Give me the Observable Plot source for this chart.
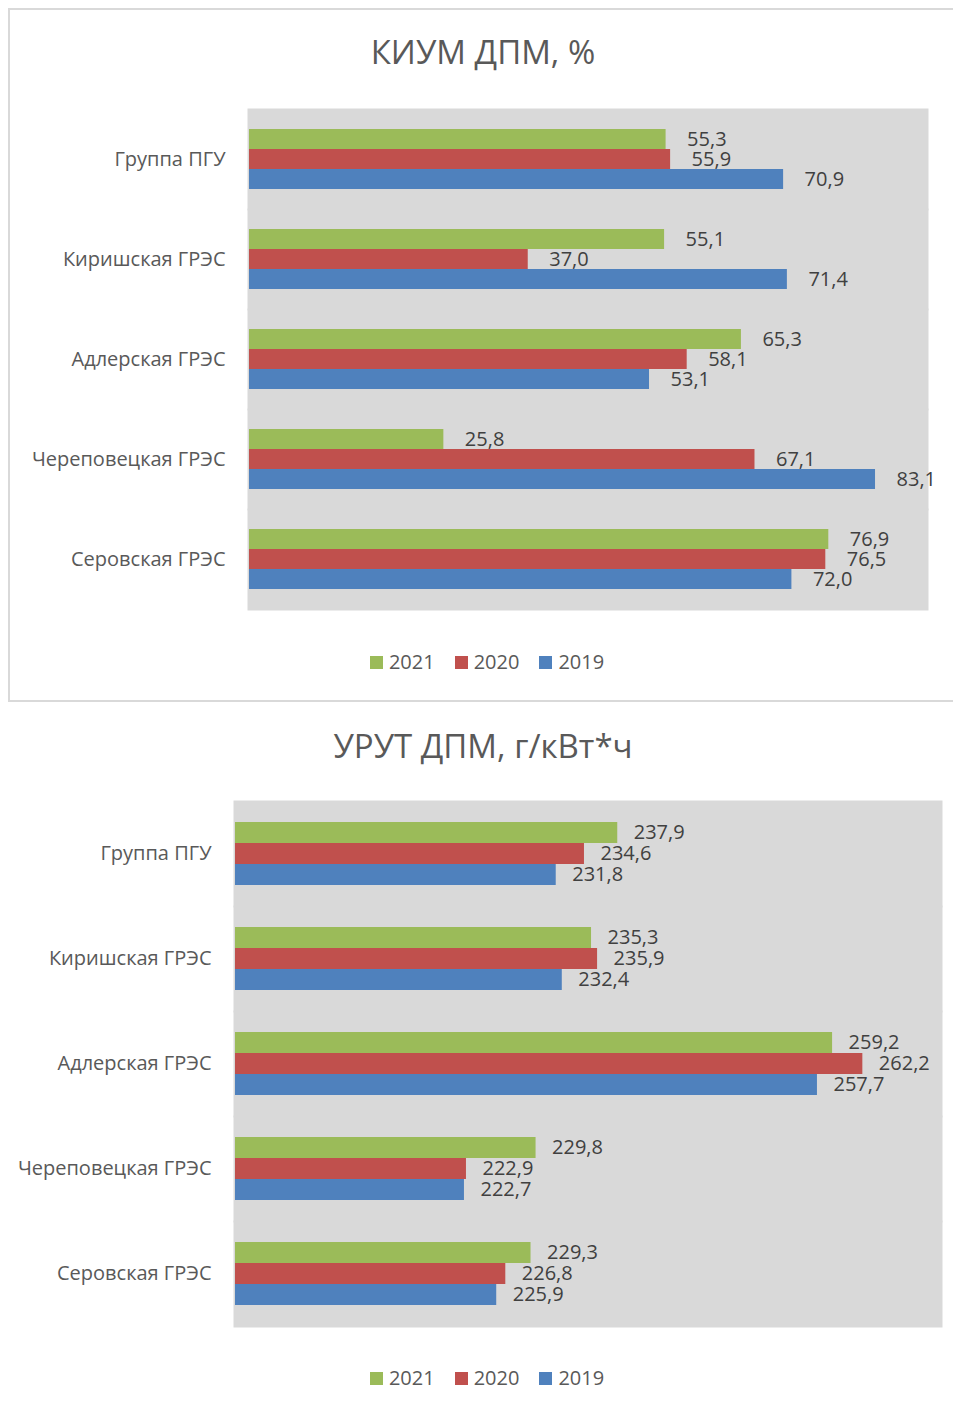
<!DOCTYPE html>
<html><head><meta charset="utf-8">
<script src="https://cdn.jsdelivr.net/npm/d3@7"></script>
<script src="https://cdn.jsdelivr.net/npm/@observablehq/plot@0.6"></script>
<style>
body{margin:0;background:#fff;font-family:"Open Sans",sans-serif;color:#595959;width:953px;height:1412px;position:relative;overflow:hidden}
.box{position:absolute;left:8px;top:8px;width:1000px;height:694px;border:2px solid #d9d9d9;box-sizing:border-box}
.title{position:absolute;left:0;width:966px;text-align:center;font-size:33px;line-height:40px;color:#595959}
.chart{position:absolute;left:0}
.legend{position:absolute;left:0;width:974px;display:flex;justify-content:center;align-items:center;font-size:20px;line-height:26px;color:#595959}
.legend span.sw{display:inline-block;width:13px;height:13px;margin-right:6px}
.legend .item{display:flex;align-items:center;margin:0 10px}
</style></head>
<body>
<div class="box"></div>
<div class="title" style="top:32px">КИУМ ДПМ, %</div>
<div class="chart" id="c1" style="top:108px"></div>
<div class="legend" id="l1" style="top:649px"></div>
<div class="title" style="top:726px;">УРУТ ДПМ, г/кВт*ч</div>
<div class="chart" id="c2" style="top:800px"></div>
<div class="legend" id="l2" style="top:1365px"></div>
<script>
const categories = ["Группа ПГУ", "Киришская ГРЭС", "Адлерская ГРЭС", "Череповецкая ГРЭС", "Серовская ГРЭС"];
const years = ["2021", "2020", "2019"];
const colors = ["#9BBB59", "#C0504D", "#4F81BD"];

const kium2021 = [55.3, 55.1, 65.3, 25.8, 76.9];
const kium2020 = [55.9, 37.0, 58.1, 67.1, 76.5];
const kium2019 = [70.9, 71.4, 53.1, 83.1, 72.0];

const urut2021 = [237.9, 235.3, 259.2, 229.8, 229.3];
const urut2020 = [234.6, 235.9, 262.2, 222.9, 226.8];
const urut2019 = [231.8, 232.4, 257.7, 222.7, 225.9];

const fmt = v => d3.format(".1f")(v).replace(".", ",");

function table(a, b, c) {
  return categories.flatMap((cat, i) => [
    {cat, year: years[0], v: a[i]},
    {cat, year: years[1], v: b[i]},
    {cat, year: years[2], v: c[i]}
  ]);
}

function chart(data, o) {
  return Plot.plot({
    width: 953,
    height: o.height,
    marginLeft: o.left,
    marginRight: o.right,
    marginTop: 0,
    marginBottom: 0,
    style: {fontFamily: "'Open Sans', sans-serif", fontSize: "20px", color: "#595959", background: "transparent", overflow: "visible"},
    x: {domain: o.domain, axis: null},
    y: {domain: years, paddingInner: 0, paddingOuter: o.pad, axis: null},
    fy: {domain: categories, padding: 0, label: null, axis: "left", tickSize: 0, tickPadding: 24},
    color: {domain: years, range: colors},
    marks: [
      Plot.frame({fill: "#d9d9d9", insetLeft: -2, insetRight: -1, insetTop: -1, insetBottom: -1}),
      Plot.barX(data, {x1: o.domain[0], x2: "v", y: "year", fy: "cat", fill: "year"}),
      Plot.text(data, {x: "v", y: "year", fy: "cat", text: d => fmt(d.v), dx: o.dx, textAnchor: "start", fill: "#404040", fontSize: 20})
    ]
  });
}

function legend(el) {
  years.forEach((y, i) => {
    const it = document.createElement("div");
    it.className = "item";
    it.innerHTML = `<span class="sw" style="background:${colors[i]}"></span>${y}`;
    el.appendChild(it);
  });
}

document.getElementById("c1").appendChild(chart(table(kium2021, kium2020, kium2019), {height: 502, left: 249, right: 26, domain: [0, 90], pad: 0.89, dx: 21}));
document.getElementById("c2").appendChild(chart(table(urut2021, urut2020, urut2019), {height: 527, left: 235, right: 12, domain: [200, 270], pad: 0.93, dx: 16}));
legend(document.getElementById("l1"));
legend(document.getElementById("l2"));
</script>
</body></html>
